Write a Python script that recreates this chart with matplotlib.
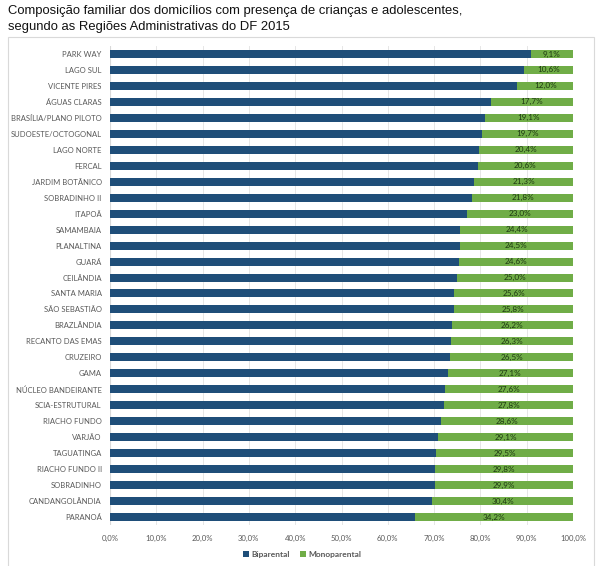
import matplotlib
matplotlib.use("Agg")
from matplotlib import pyplot as plt
from matplotlib.patches import Rectangle
import numpy as np

regions = ["PARK WAY", "LAGO SUL", "VICENTE PIRES", "ÁGUAS CLARAS",
           "BRASÍLIA/PLANO PILOTO", "SUDOESTE/OCTOGONAL", "LAGO NORTE",
           "FERCAL", "JARDIM BOTÂNICO", "SOBRADINHO II", "ITAPOÃ",
           "SAMAMBAIA", "PLANALTINA", "GUARÁ", "CEILÂNDIA", "SANTA MARIA",
           "SÃO SEBASTIÃO", "BRAZLÂNDIA", "RECANTO DAS EMAS", "CRUZEIRO",
           "GAMA", "NÚCLEO BANDEIRANTE", "SCIA-ESTRUTURAL", "RIACHO FUNDO",
           "VARJÃO", "TAGUATINGA", "RIACHO FUNDO II", "SOBRADINHO",
           "CANDANGOLÂNDIA", "PARANOÁ"]
biparental = [90.9, 89.4, 88.0, 82.3, 80.9, 80.3, 79.6, 79.4, 78.7, 78.2,
              77.0, 75.6, 75.5, 75.4, 75.0, 74.4, 74.2, 73.8, 73.7, 73.5,
              72.9, 72.4, 72.2, 71.4, 70.9, 70.5, 70.2, 70.1, 69.6, 65.8]
monoparental = [9.1, 10.6, 12.0, 17.7, 19.1, 19.7, 20.4, 20.6, 21.3, 21.8,
                23.0, 24.4, 24.5, 24.6, 25.0, 25.6, 25.8, 26.2, 26.3, 26.5,
                27.1, 27.6, 27.8, 28.6, 29.1, 29.5, 29.8, 29.9, 30.4, 34.2]
xticks = [0, 10, 20, 30, 40, 50, 60, 70, 80, 90, 100]

blue = "#1f4e79"
green = "#70ad47"
gray = "#595959"

fig = plt.figure(figsize=(6, 5.66), dpi=100)
fig.patch.set_facecolor("white")

# chart frame
fig.add_artist(Rectangle((8 / 600, -0.01), 586 / 600, 1 - 37 / 566 + 0.01,
                         transform=fig.transFigure, fill=False,
                         edgecolor="#d9d9d9", linewidth=0.8))

fig.text(8 / 600, 1 - 5 / 566, "Composição familiar dos domicílios com presença de crianças e adolescentes,\nsegundo as Regiões Administrativas do DF 2015",
         ha="left", va="top", fontsize=9.4, family="Liberation Sans",
         color="#111111", linespacing=1.42)

ax = fig.add_axes([110 / 600, 1 - 525 / 566, 463 / 600, 479 / 566])
y = np.arange(len(regions))
ax.barh(y, biparental, height=0.5, color=blue, zorder=3, label="Biparental")
ax.barh(y, monoparental, left=biparental, height=0.5, color=green, zorder=3,
        label="Monoparental")

for i in range(len(regions)):
    ax.text(biparental[i] + monoparental[i] / 2, y[i],
            ("%.1f%%" % monoparental[i]).replace(".", ","),
            ha="center", va="center", fontsize=5.9, color="#1e3a12",
            family="Lato", zorder=4)

ax.set_ylim(len(regions) - 0.5, -0.5)
ax.set_xlim(0, 100)
ax.set_yticks(y)
ax.set_yticklabels(regions, fontsize=5.5, color=gray, family="Lato")
ax.set_xticks(xticks)
ax.set_xticklabels([("%.1f%%" % t).replace(".", ",") for t in xticks],
                   fontsize=5.6, color=gray, family="Lato")
ax.tick_params(length=0, pad=6)
ax.tick_params(axis="x", pad=7)
ax.grid(axis="x", color="#e6e6e6", linewidth=0.7, zorder=0)
for s in ax.spines.values():
    s.set_visible(False)
ax.axvline(0, color="#d9d9d9", linewidth=0.8, zorder=2)

leg = ax.legend(loc="center", bbox_to_anchor=(0.415, -29 / 479), ncol=2,
                frameon=False, handlelength=0.7, handleheight=0.7,
                handletextpad=0.3, columnspacing=1.2,
                prop={"family": "Lato", "size": 6, "weight": "bold"})
for t in leg.get_texts():
    t.set_color(gray)

fig.savefig("out.png", dpi=100, facecolor="white")
